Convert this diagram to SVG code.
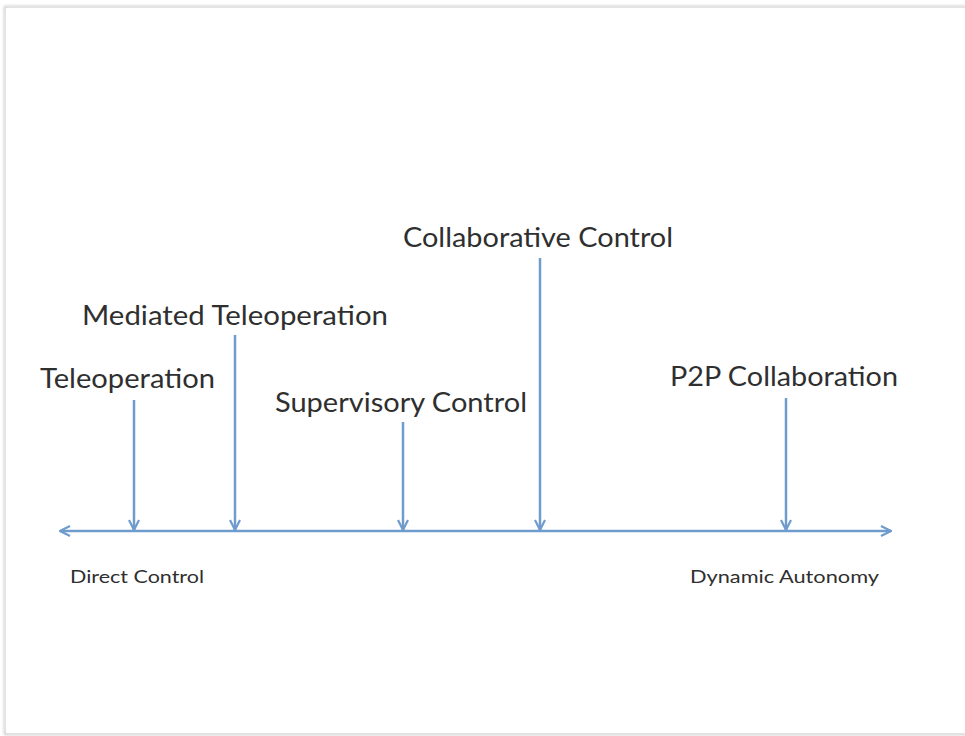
<svg xmlns="http://www.w3.org/2000/svg" width="965" height="736" viewBox="0 0 965 736">
  <style>
    .lbl { font-family: Lato, "Open Sans", "Liberation Sans", sans-serif; fill: #2f2f2f; }
    .big { font-size: 27px; }
    .small { font-size: 18px; }
    .conn { stroke: #6f9bcd; stroke-width: 2.5; fill: none; }
  </style>
  <defs>
    <marker id="chev" viewBox="0 0 12 12" refX="11" refY="6" markerWidth="12" markerHeight="12" markerUnits="userSpaceOnUse" orient="auto-start-reverse">
      <path d="M1,1 L11,6 L1,11" fill="none" stroke="#6f9bcd" stroke-width="2.2" stroke-linejoin="miter"/>
    </marker>
    <filter id="shadow" x="-5%" y="-5%" width="110%" height="110%">
      <feGaussianBlur stdDeviation="1.5"/>
    </filter>
  </defs>

  <!-- page background with soft edge -->
  <rect width="965" height="736" fill="#ffffff"/>
  <rect x="5" y="7" width="975" height="727" fill="none" stroke="#c4c4c4" stroke-width="2" filter="url(#shadow)"/>
  <rect x="6" y="8" width="975" height="725" fill="#ffffff"/>

  <!-- connectors -->
  <g id="connectors">
    <line class="conn" x1="60" y1="531" x2="891" y2="531" marker-start="url(#chev)" marker-end="url(#chev)"/>
    <line class="conn" x1="134" y1="400" x2="134" y2="530" marker-end="url(#chev)"/>
    <line class="conn" x1="235" y1="335" x2="235" y2="530" marker-end="url(#chev)"/>
    <line class="conn" x1="403" y1="422" x2="403" y2="530" marker-end="url(#chev)"/>
    <line class="conn" x1="540" y1="258" x2="540" y2="530" marker-end="url(#chev)"/>
    <line class="conn" x1="786" y1="398" x2="786" y2="530" marker-end="url(#chev)"/>
  </g>

  <g id="teleoperation">
    <text class="lbl big" x="40" y="388" textLength="175" lengthAdjust="spacingAndGlyphs">Teleoperation</text>
  </g>
  <g id="mediated-teleoperation">
    <text class="lbl big" x="82" y="325" textLength="306" lengthAdjust="spacingAndGlyphs">Mediated Teleoperation</text>
  </g>
  <g id="supervisory-control">
    <text class="lbl big" x="275" y="412" textLength="252" lengthAdjust="spacingAndGlyphs">Supervisory Control</text>
  </g>
  <g id="collaborative-control">
    <text class="lbl big" x="403" y="247" textLength="270" lengthAdjust="spacingAndGlyphs">Collaborative Control</text>
  </g>
  <g id="p2p-collaboration">
    <text class="lbl big" x="670" y="386" textLength="228" lengthAdjust="spacingAndGlyphs">P2P Collaboration</text>
  </g>
  <g id="direct-control">
    <text class="lbl small" x="70" y="583" textLength="134" lengthAdjust="spacingAndGlyphs">Direct Control</text>
  </g>
  <g id="dynamic-autonomy">
    <text class="lbl small" x="690" y="583" textLength="189" lengthAdjust="spacingAndGlyphs">Dynamic Autonomy</text>
  </g>
</svg>
